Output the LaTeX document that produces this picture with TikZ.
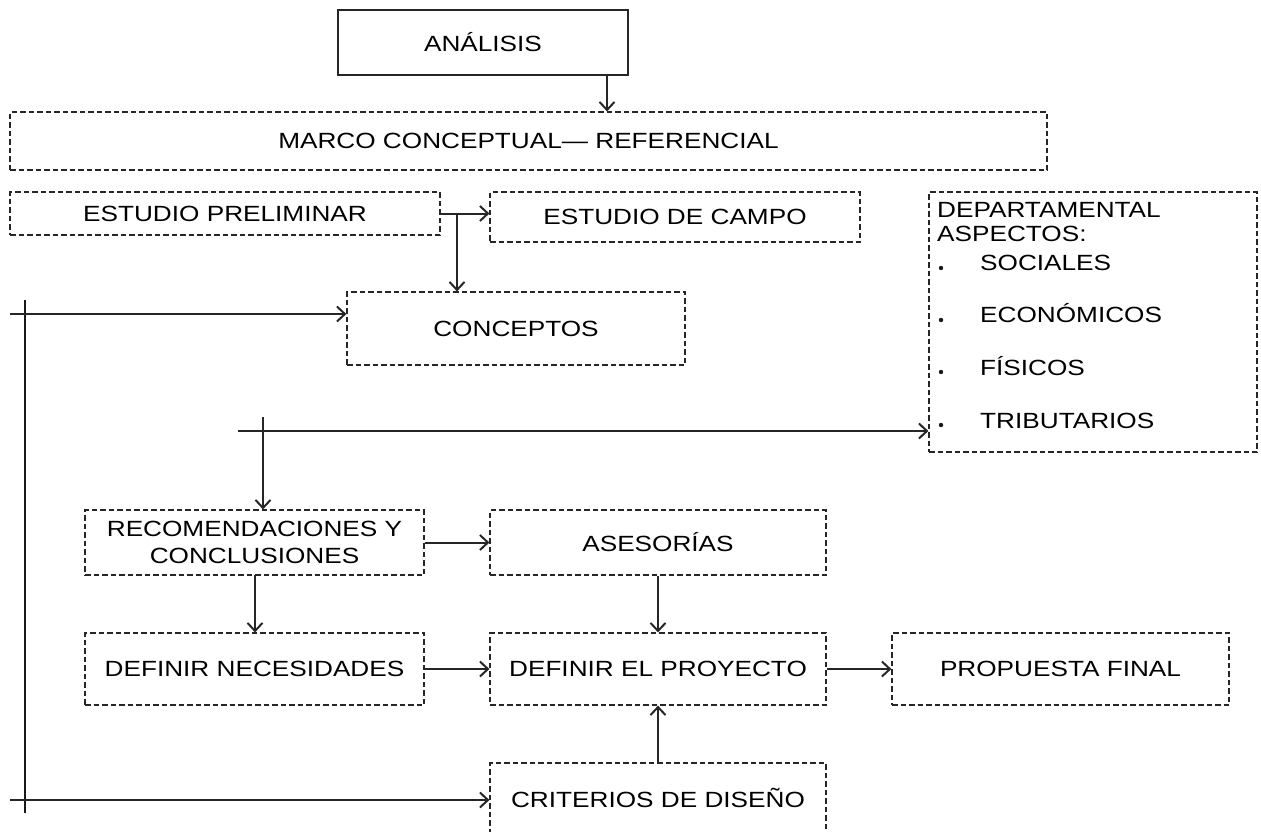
\documentclass[tikz,border=0pt]{standalone}
\usepackage{fontspec}
\setmainfont{Liberation Sans}[FakeStretch=1.19]
\usetikzlibrary{arrows.meta}
\begin{document}
\begin{tikzpicture}[x=1pt,y=-1pt,
  font=\fontsize{22}{27}\selectfont,
  box/.style={draw=black!85, line width=1.2pt, dash pattern=on 5.5pt off 3pt,
              inner sep=0pt, align=center},
  solidbox/.style={draw=black!85, line width=1.2pt, inner sep=0pt},
  txt/.style={inner sep=0pt, anchor=base west},
  arr/.style={draw=black!85, line width=2pt,
              -{Straight Barb[length=8pt,width=15pt,line width=2pt]}},
  feed/.style={draw=black!90, line width=2.4pt},
]
\useasboundingbox (0,0) rectangle (1261,831);
\clip (0,0) rectangle (1261,831);

% boxes
\node[solidbox, minimum width=290, minimum height=65] (analisis) at (483,42.5) {ANÁLISIS};
\node[box, minimum width=1037, minimum height=58] (marco) at (528.5,141) {MARCO CONCEPTUAL— REFERENCIAL};
\node[box, minimum width=430, minimum height=43] (prelim) at (225,213.5) {ESTUDIO PRELIMINAR};
\node[box, minimum width=370, minimum height=50] (campo) at (675,217) {ESTUDIO DE CAMPO};
\node[box, minimum width=338, minimum height=73] (conceptos) at (516,328.5) {CONCEPTOS};
\node[box, minimum width=328, minimum height=260] (depto) at (1093,322) {};
\node[box, minimum width=339, minimum height=65] (recom) at (254.5,542.5) {RECOMENDACIONES Y\\CONCLUSIONES};
\node[box, minimum width=336, minimum height=65] (asesorias) at (658,542.5) {ASESORÍAS};
\node[box, minimum width=339, minimum height=72] (necesidades) at (254.5,669) {DEFINIR NECESIDADES};
\node[box, minimum width=336, minimum height=72] (proyecto) at (658,669) {DEFINIR EL PROYECTO};
\node[box, minimum width=337, minimum height=72] (propuesta) at (1060.5,669) {PROPUESTA FINAL};
\node[box, minimum width=336, minimum height=70] (criterios) at (658,798) {CRITERIOS DE DISEÑO};

% list inside the departmental box
\node[txt] (dep1) at (937,217) {DEPARTAMENTAL};
\node[txt] (dep2) at (937,241) {ASPECTOS:};
\node[txt] (it1) at (980,270) {SOCIALES};
\node[txt] (it2) at (980,322) {ECONÓMICOS};
\node[txt] (it3) at (980,375) {FÍSICOS};
\node[txt] (it4) at (980,428) {TRIBUTARIOS};
\foreach \yy in {268,320,372,425} \fill[black!90] (941,\yy) circle (2.2);

% connectors
\coordinate (a1) at (607,75);
\draw[arr] (a1) -- (a1 |- marco.north);

\draw[arr] (prelim.east) -- (prelim.east -| campo.west);
\coordinate (p1) at (457,213.5);
\draw[arr] (p1) -- (p1 |- conceptos.north);

% feedback line on the left
\coordinate (l1) at (25,300);
\coordinate (l2) at (25,813);
\draw[feed] (l1) -- (l2);
\coordinate (h1) at (10,314);
\draw[arr] (h1) -- (h1 -| conceptos.west);
\coordinate (h2) at (10,800);
\draw[arr] (h2) -- (h2 -| criterios.west);

% middle cross
\coordinate (m1) at (238,431);
\draw[arr] (m1) -- (m1 -| depto.west);
\coordinate (m2) at (263,417);
\draw[arr] (m2) -- (m2 |- recom.north);

\draw[arr] (recom.east) -- (recom.east -| asesorias.west);
\coordinate (r1) at (255,575);
\draw[arr] (r1) -- (r1 |- necesidades.north);
\draw[arr] (asesorias.south) -- (proyecto.north);
\draw[arr] (necesidades.east) -- (proyecto.west);
\draw[arr] (proyecto.east) -- (propuesta.west);
\draw[arr] (criterios.north) -- (proyecto.south);
\end{tikzpicture}
\end{document}
